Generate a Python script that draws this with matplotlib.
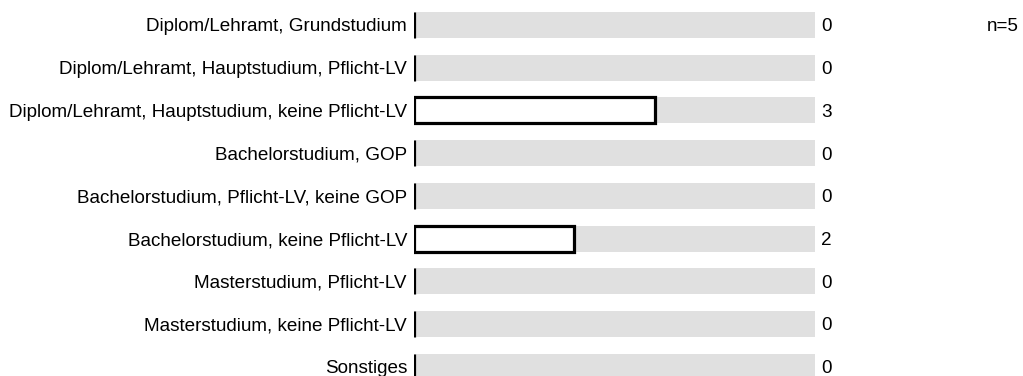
import matplotlib.pyplot as plt
from matplotlib.transforms import blended_transform_factory

plt.rcParams['font.family'] = ['Liberation Sans', 'DejaVu Sans']

# Data
categories = [
    'Diplom/Lehramt, Grundstudium',
    'Diplom/Lehramt, Hauptstudium, Pflicht-LV',
    'Diplom/Lehramt, Hauptstudium, keine Pflicht-LV',
    'Bachelorstudium, GOP',
    'Bachelorstudium, Pflicht-LV, keine GOP',
    'Bachelorstudium, keine Pflicht-LV',
    'Masterstudium, Pflicht-LV',
    'Masterstudium, keine Pflicht-LV',
    'Sonstiges',
]
counts = [0, 0, 3, 0, 0, 2, 0, 0, 0]
n_total = 5

W, H = 1023, 376
fig = plt.figure(figsize=(W / 100, H / 100), dpi=100)
x0, x1 = 414, 815
ax = fig.add_axes([x0 / W, 0, (x1 - x0) / W, 1])

rows = list(range(len(categories)))
row_px = 42.7
top_px = 25
ax.set_xlim(0, n_total)
ax.set_ylim((H - top_px) / row_px, -top_px / row_px)

bar_h = 26 / row_px
ax.barh(rows, [n_total] * len(rows), height=bar_h, color='#e0e0e0', linewidth=0)
ax.barh(rows, counts, height=bar_h, color='white', edgecolor='black', linewidth=2.3)
ax.axis('off')

fs = 13.6
base = 6.5 / row_px  # baseline offset below row centre
trans = blended_transform_factory(fig.transFigure, ax.transData)
for i, (cat, c) in enumerate(zip(categories, counts)):
    fig.text(407 / W, i + base, cat, transform=trans, ha='right', va='baseline', fontsize=fs)
    fig.text(821 / W, i + base, str(c), transform=trans, ha='left', va='baseline', fontsize=fs)
fig.text(1019 / W, base, 'n=%d' % n_total, transform=trans, ha='right', va='baseline', fontsize=fs)

fig.savefig('out.png', dpi=100)
